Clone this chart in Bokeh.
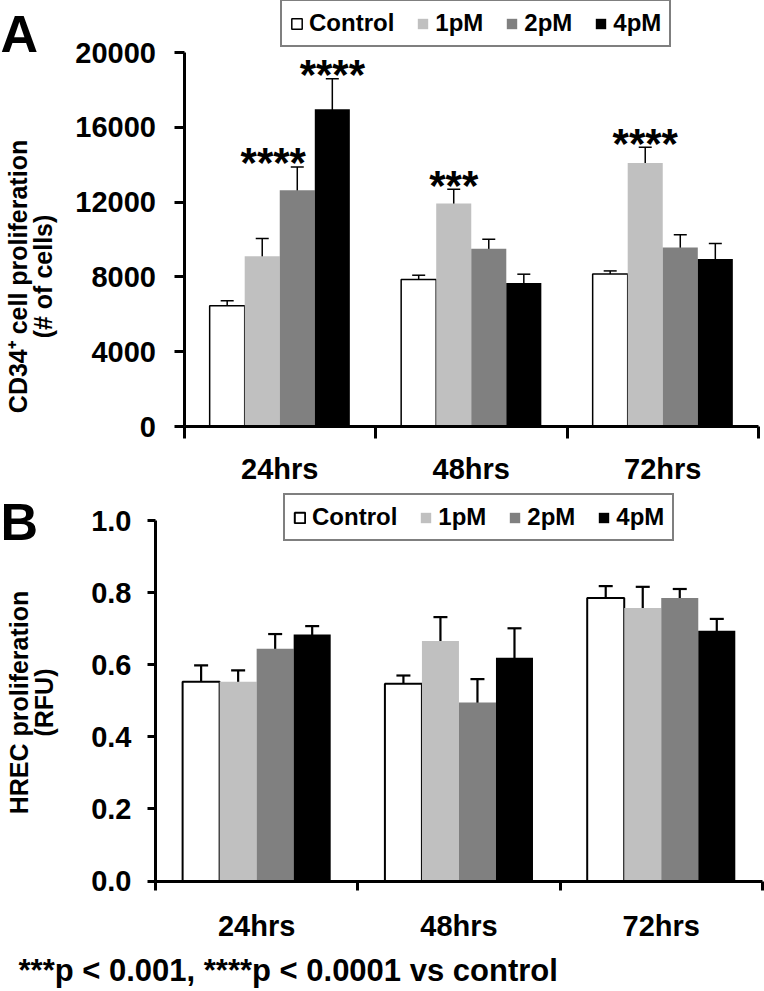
import math
from bokeh.plotting import figure
from bokeh.models import (ColumnDataSource, Range1d, FixedTicker, Whisker, TeeHead,
                          Legend, LegendItem, Label, NumeralTickFormatter)
from bokeh.layouts import column
from bokeh.embed import file_html
from bokeh.resources import INLINE
from bokeh.core.properties import value

FONT = "Liberation Sans"

# ---------------- data ----------------
timepoints = ["24hrs", "48hrs", "72hrs"]
series = ["Control", "1pM", "2pM", "4pM"]
colors = ["#FFFFFF", "#C0C0C0", "#808080", "#000000"]

# Panel A: CD34+ cell proliferation (# of cells)
cd34_control = [6460, 7860, 8160]
cd34_1pm = [9100, 11930, 14090]
cd34_2pm = [12630, 9500, 9570]
cd34_4pm = [16960, 7680, 8960]
cd34_control_err = [260, 230, 160]
cd34_1pm_err = [950, 760, 840]
cd34_2pm_err = [1250, 520, 680]
cd34_4pm_err = [1640, 465, 830]
cd34_control_sig = ["", "", ""]
cd34_1pm_sig = ["", "***", "****"]
cd34_2pm_sig = ["****", "", ""]
cd34_4pm_sig = ["****", "", ""]
cd34_ticks = [0, 4000, 8000, 12000, 16000, 20000]

# Panel B: HREC proliferation (RFU)
hrec_control = [0.553, 0.547, 0.785]
hrec_1pm = [0.553, 0.666, 0.757]
hrec_2pm = [0.644, 0.495, 0.785]
hrec_4pm = [0.684, 0.619, 0.694]
hrec_control_err = [0.045, 0.023, 0.033]
hrec_1pm_err = [0.031, 0.066, 0.059]
hrec_2pm_err = [0.041, 0.065, 0.025]
hrec_4pm_err = [0.023, 0.082, 0.033]
hrec_ticks = [0.0, 0.2, 0.4, 0.6, 0.8, 1.0]

footnote = "***p < 0.001, ****p < 0.0001 vs control"

# style: horizontal nudge (px) of the significance stars, per series
star_nudge = [[0, 0, 0], [0, 0, 0], [-24, 0, 0], [0, 0, 0]]

BAR_W = 0.183
W = 764


def make_fig(height, ax_left_px, cat_px, y0_px, ytop_px, ymax):
    """Frame covers the whole canvas; axes are drawn at fixed locations."""
    x_start = -0.5 - ax_left_px / cat_px
    x_end = -0.5 + (W - ax_left_px) / cat_px
    ppy = (y0_px - ytop_px) / ymax
    y_start = -(height - y0_px) / ppy
    y_end = ymax + ytop_px / ppy
    p = figure(width=W, height=height, output_backend="svg", toolbar_location=None,
               x_range=Range1d(x_start, x_end), y_range=Range1d(y_start, y_end),
               min_border_left=0, min_border_right=0, min_border_top=0,
               min_border_bottom=0, frame_align=False)
    p.xgrid.visible = False
    p.ygrid.visible = False
    p.outline_line_color = None
    p.background_fill_color = "white"
    p.border_fill_color = "white"
    return p


def style_axes(p, yticks, yfmt, ymax, ytick_out, ylab_standoff, xtick_out, xlab_standoff):
    n = len(timepoints)
    xax = p.xaxis[0]
    xax.fixed_location = 0
    xax.bounds = (-0.5, n - 0.5)
    xax.ticker = FixedTicker(ticks=list(range(n)),
                             minor_ticks=[i - 0.5 for i in range(n + 1)])
    xax.major_label_overrides = {i: t for i, t in enumerate(timepoints)}
    xax.major_tick_line_color = None
    xax.major_tick_out = 0
    xax.major_tick_in = 0
    xax.minor_tick_line_color = "black"
    xax.minor_tick_line_width = 3
    xax.minor_tick_out = xtick_out
    xax.minor_tick_in = 0
    xax.axis_line_width = 3
    xax.axis_line_color = "black"
    xax.major_label_text_font = FONT
    xax.major_label_text_font_style = "bold"
    xax.major_label_text_font_size = "29px"
    xax.major_label_text_color = "black"
    xax.major_label_standoff = xlab_standoff

    yax = p.yaxis[0]
    yax.fixed_location = -0.5
    yax.bounds = (0, ymax)
    yax.ticker = FixedTicker(ticks=yticks)
    yax.formatter = NumeralTickFormatter(format=yfmt)
    yax.minor_tick_line_color = None
    yax.major_tick_line_width = 3
    yax.major_tick_line_color = "black"
    yax.major_tick_out = ytick_out
    yax.major_tick_in = 0
    yax.axis_line_width = 3
    yax.axis_line_color = "black"
    yax.major_label_text_font = FONT
    yax.major_label_text_font_style = "bold"
    yax.major_label_text_font_size = "29px"
    yax.major_label_text_color = "black"
    yax.major_label_standoff = ylab_standoff


def add_bars(p, means, errs, sigs, err_w, cap, outline_w, star_size=None):
    renderers = []
    for i, (name, col) in enumerate(zip(series, colors)):
        off = (i - 1.5) * BAR_W
        xs = [k + off for k in range(len(timepoints))]
        src = ColumnDataSource(dict(
            x=xs, top=means[i],
            upper=[m + e for m, e in zip(means[i], errs[i])],
            lower=[m - e for m, e in zip(means[i], errs[i])],
            sig=sigs[i] if sigs is not None else [""] * len(timepoints),
            dx=star_nudge[i],
        ))
        r = p.vbar(x="x", top="top", bottom=0, width=BAR_W, source=src,
                   fill_color=col,
                   line_color="black" if name == "Control" else None,
                   line_width=outline_w)
        renderers.append(r)
        w = Whisker(source=src, base="x", upper="upper", lower="lower",
                    dimension="height", line_color="black", line_width=err_w,
                    upper_head=TeeHead(size=cap, line_width=err_w, line_color="black"),
                    lower_head=TeeHead(size=cap, line_width=err_w, line_color="black"))
        p.add_layout(w)
        if sigs is not None:
            p.text(x="x", y="upper", text="sig", source=src,
                   text_font=value(FONT), text_font_style="bold",
                   text_font_size=star_size, text_color="black",
                   text_align="center", text_baseline="alphabetic",
                   x_offset="dx", y_offset=-4)
    return renderers


def add_legend(p, renderers, x, y):
    items = [LegendItem(label=s, renderers=[r]) for s, r in zip(series, renderers)]
    leg = Legend(items=items, orientation="horizontal", location=(x, y),
                 label_text_font=FONT, label_text_font_style="bold",
                 label_text_font_size="24px", label_text_color="black",
                 label_standoff=6, spacing=22, padding=8, margin=0,
                 glyph_width=13, glyph_height=13,
                 border_line_color="black", border_line_width=2,
                 background_fill_color="white", background_fill_alpha=1.0)
    p.add_layout(leg, "center")


def add_text(p, x, y, text, size, align="left", baseline="alphabetic", angle=0.0,
             line_height=1.0):
    p.add_layout(Label(x=x, y=y, x_units="screen", y_units="screen", text=text,
                       angle=angle, text_align=align, text_baseline=baseline,
                       text_font=FONT, text_font_style="bold", text_font_size=size,
                       text_line_height=line_height, text_color="black"))


# ---------------- Panel A ----------------
HA = 488
pA = make_fig(HA, 183.5, 191.5, 426, 52, 20000)
style_axes(pA, cd34_ticks, "0", 20000, 10, 18, 12, 14)
rA = add_bars(pA,
              [cd34_control, cd34_1pm, cd34_2pm, cd34_4pm],
              [cd34_control_err, cd34_1pm_err, cd34_2pm_err, cd34_4pm_err],
              [cd34_control_sig, cd34_1pm_sig, cd34_2pm_sig, cd34_4pm_sig],
              err_w=1.5, cap=13, outline_w=1.5, star_size="42px")
add_legend(pA, rA, 280, HA - 47)
add_text(pA, 30, HA - 276, "CD34\u207A cell proliferation\n(# of cells)", "25px",
         align="center", baseline="middle", angle=math.pi / 2, line_height=0.88)
add_text(pA, 0, HA - 48 + 15, "A", "52px")

# ---------------- Panel B ----------------
HB = 503
pB = make_fig(HB, 155, 202.3, 392.5, 32, 1.0)
style_axes(pB, hrec_ticks, "0.0", 1.0, 8, 16, 9, 20)
rB = add_bars(pB,
              [hrec_control, hrec_1pm, hrec_2pm, hrec_4pm],
              [hrec_control_err, hrec_1pm_err, hrec_2pm_err, hrec_4pm_err],
              None, err_w=2.2, cap=14, outline_w=2)
add_legend(pB, rB, 283, HB - 53)
add_text(pB, 31, HB - 214, "HREC proliferation\n(RFU)", "25px",
         align="center", baseline="middle", angle=math.pi / 2, line_height=0.88)
add_text(pB, 0, HB - 48 + 15, "B", "52px")
add_text(pB, 18, HB - 490 + 8, footnote, "31px")

layout = column(pA, pB, spacing=0)
open("out.html", "w").write(file_html(layout, INLINE))
